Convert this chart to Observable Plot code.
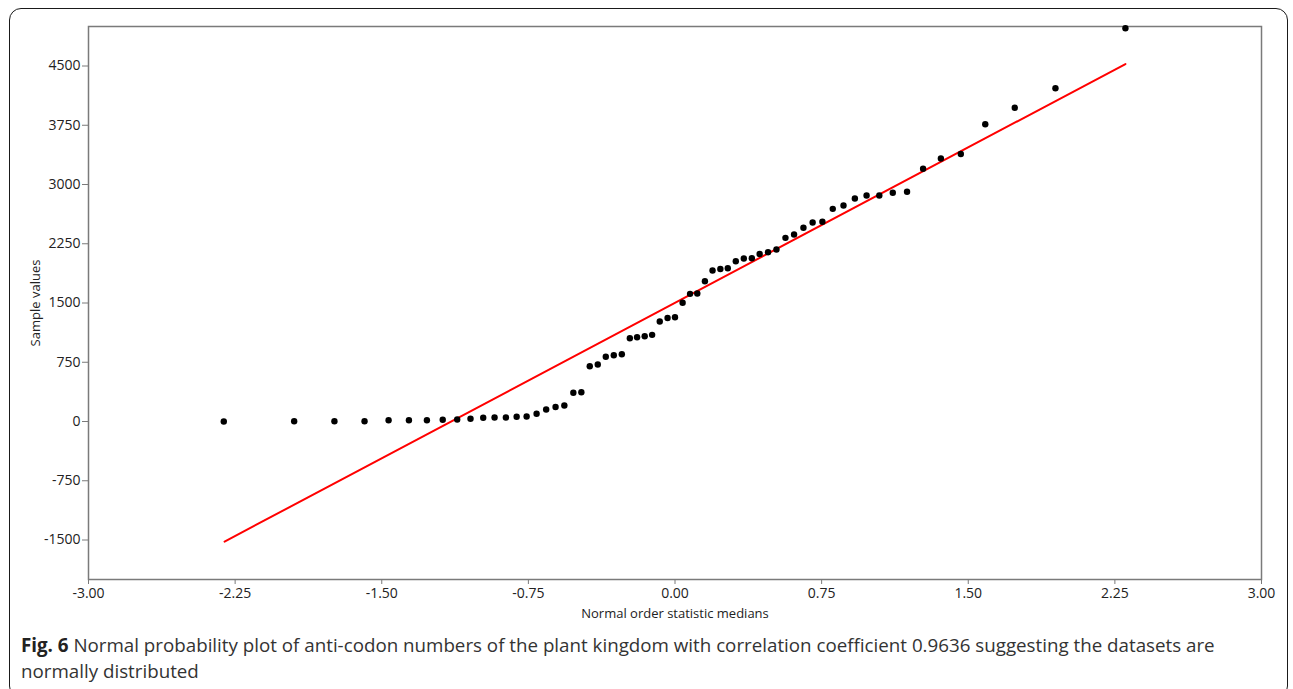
<!DOCTYPE html>
<html><head><meta charset="utf-8">
<script src="https://cdn.jsdelivr.net/npm/d3@7"></script>
<script src="https://cdn.jsdelivr.net/npm/@observablehq/plot@0.6"></script>
<style>
body{margin:0;background:#fff;width:1293px;height:689px;overflow:hidden;position:relative;font-family:"Open Sans",sans-serif;}
#box{position:absolute;left:9px;top:8px;width:1279px;height:690px;border:1.5px solid #1a1a1a;border-radius:12px;box-sizing:border-box;}
#chart{position:absolute;left:0;top:0;}
#caption{position:absolute;left:21px;top:632px;width:1265px;font-size:18.75px;line-height:26px;color:#333;white-space:nowrap;}
#caption b{color:#222;}
</style></head><body>
<div id="box"></div>
<div id="chart"></div>
<div id="caption"><b>Fig. 6</b> Normal probability plot of anti-codon numbers of the plant kingdom with correlation coefficient 0.9636 suggesting the datasets are<br>normally distributed</div>
<script>
const xMedians = [-2.308, -1.948, -1.742, -1.588, -1.465, -1.361, -1.269, -1.188, -1.114, -1.046,
  -0.981, -0.923, -0.865, -0.810, -0.759, -0.708, -0.659, -0.611, -0.566, -0.520,
  -0.479, -0.436, -0.395, -0.354, -0.313, -0.272, -0.231, -0.194, -0.155, -0.117,
  -0.078, -0.038, 0, 0.039, 0.077, 0.114, 0.153, 0.192, 0.232, 0.270,
  0.311, 0.352, 0.393, 0.433, 0.476, 0.519, 0.565, 0.609, 0.657, 0.704,
  0.754, 0.807, 0.862, 0.920, 0.980, 1.045, 1.114, 1.187, 1.269, 1.360,
  1.462, 1.587, 1.738, 1.946, 2.304];
const sampleValues = [0, 4, 4, 4, 16, 16, 16, 22, 25, 34,
  48, 51, 51, 61, 63, 99, 152, 184, 203, 363,
  371, 700, 722, 819, 839, 852, 1054, 1067, 1080, 1097,
  1266, 1310, 1319, 1503, 1616, 1620, 1775, 1911, 1930, 1940,
  2028, 2063, 2066, 2120, 2143, 2177, 2325, 2367, 2452, 2519,
  2528, 2692, 2734, 2823, 2861, 2861, 2895, 2908, 3200, 3329,
  3386, 3763, 3971, 4219, 4978];
const fitX = [-2.304, 2.304];
const fitY = [-1520, 4525];
const xTicks = [-3, -2.25, -1.5, -0.75, 0, 0.75, 1.5, 2.25, 3];
const yTicks = [-1500, -750, 0, 750, 1500, 2250, 3000, 3750, 4500];

const points = xMedians.map((x, i) => ({x, y: sampleValues[i]}));
const fit = fitX.map((x, i) => ({x, y: fitY[i]}));

const plot = Plot.plot({
  width: 1293, height: 630,
  marginLeft: 88, marginTop: 26, marginRight: 32, marginBottom: 51,
  style: {fontFamily: '"Open Sans", sans-serif', fontSize: "14px", color: "#222", background: "transparent"},
  x: {domain: [-3, 3]},
  y: {domain: [-2000, 5000]},
  marks: [
    Plot.frame({stroke: "#7a7a7a", strokeWidth: 1.5}),
    Plot.axisX({ticks: xTicks, tickFormat: d => d.toFixed(2), tickSize: 5, tickPadding: 4, stroke: "#7a7a7a",
      label: "Normal order statistic medians", labelAnchor: "center", labelArrow: "none", labelOffset: 38}),
    Plot.axisY({ticks: yTicks, tickFormat: d => String(d), tickSize: 6, tickPadding: 2, stroke: "#7a7a7a",
      label: "Sample values", labelAnchor: "center", labelArrow: "none", labelOffset: 58}),
    Plot.line(fit, {x: "x", y: "y", stroke: "#ff0000", strokeWidth: 2}),
    Plot.dot(points, {x: "x", y: "y", r: 3.2, fill: "#000", stroke: "none"})
  ]
});
document.getElementById("chart").appendChild(plot);
plot.querySelectorAll('g[aria-label="x-axis label"], g[aria-label="y-axis label"]').forEach(g => g.setAttribute("font-size", "13"));
</script>
</body></html>
